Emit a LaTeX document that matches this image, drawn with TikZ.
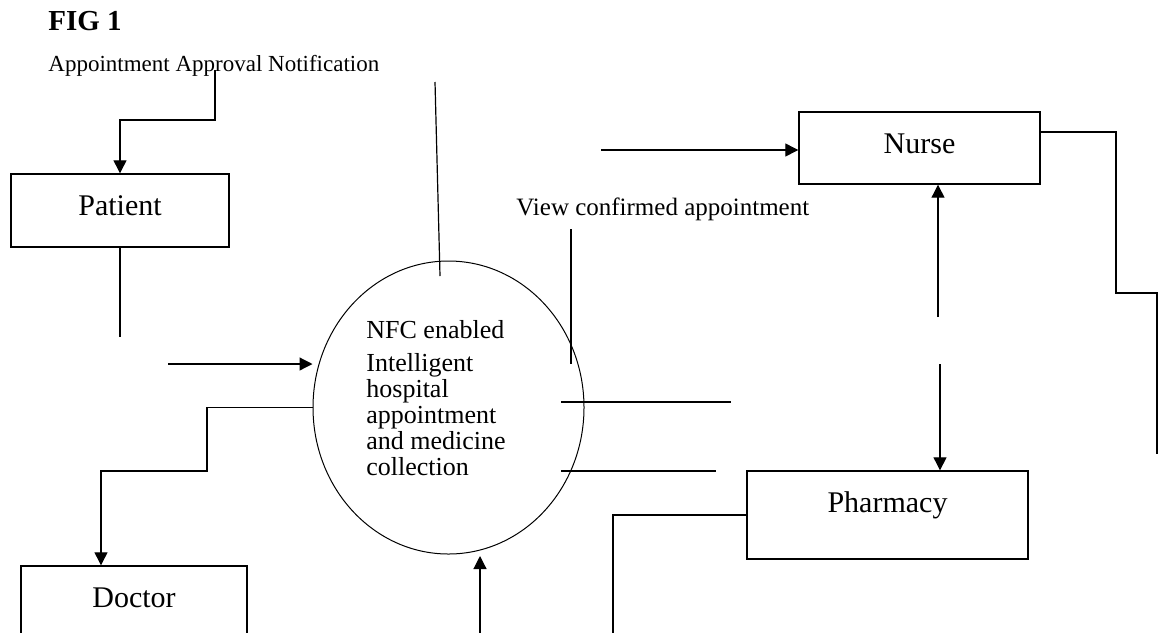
\documentclass[tikz,border=0pt]{standalone}
\usepackage{fontspec}
\setmainfont{Liberation Serif}
\usetikzlibrary{arrows.meta,shapes.geometric}
\newlength{\du}
\setlength{\du}{0.5pt}
\tikzset{
  entity/.style={draw, line width=1.4\du, font=\fontsize{15}{18}\selectfont, text height=21\du},
  process/.style={draw, ellipse, line width=1\du, minimum width=271\du, minimum height=293\du},
  flow/.style={line width=1.2\du, -{Triangle[length=6.5pt,width=6.5pt]}},
  link/.style={line width=1.2\du},
  caption/.style={inner sep=0pt, anchor=base west}
}

\begin{document}
\begin{tikzpicture}[x=\du,y=-\du]
\useasboundingbox (0,0) rectangle (1159,632);
\clip (0,0) rectangle (1159,632);
% texts
\node[caption, font=\bfseries\fontsize{14.5}{17}\selectfont] (fig) at (48,30) {FIG 1};
\node[caption, font=\fontsize{11.5}{14}\selectfont] (notif) at (48,71) {Appointment Approval Notification};
\node[caption, font=\fontsize{12.5}{15}\selectfont] (viewconf) at (516,215) {View confirmed appointment};
% entities
\node[entity, minimum width=218\du, minimum height=73\du, text depth=12\du] (patient) at (120,210.5) {Patient};
\node[entity, minimum width=241\du, minimum height=72\du, text depth=11\du] (nurse) at (919.5,148) {Nurse};
\node[entity, minimum width=281\du, minimum height=88\du, text depth=27\du] (pharmacy) at (887.5,515) {Pharmacy};
\node[entity, minimum width=226\du, minimum height=74\du, text depth=13\du] (doctor) at (134,603) {Doctor};
% process
\node[process] (system) at (448.5,407.5) {};
\node[inner sep=0pt, anchor=north west, align=left, font=\fontsize{13}{13}\selectfont] (systext) at (366,320)
  {NFC enabled\\[3.5pt]Intelligent\\hospital\\appointment\\and medicine\\collection};
% flows
\coordinate (n1) at (215,70);
\draw[flow] (n1) -- (215,120) -| (patient.north);
\coordinate (p1) at (120,337);
\draw[link] (patient.south) -- (p1);
\coordinate (s1) at (168,364);
\draw[flow] (s1) -- (s1 -| system.west);
\draw[flow] (system.west) -| (207,471) -| ([xshift=-33\du]doctor.north);
\coordinate (t1) at (435,82);
\draw[link] (t1) -- (440,276);
\coordinate (v1) at (571,229);
\draw[link] (v1) -- (571,364);
\draw[link] (561,402) -- (731,402);
\draw[link] (561,471) -- (716,471);
\coordinate (a1) at (601,150);
\draw[flow] (a1) -- (a1 -| nurse.west);
\coordinate (a2) at (938,317);
\draw[flow] (a2) -- (a2 |- nurse.south);
\draw[link] ([yshift=16\du]nurse.east) -| (1116,293) -| (1157,454);
\coordinate (a3) at (940,364);
\draw[flow] (a3) -- (a3 |- pharmacy.north);
\draw[link] (pharmacy.west) -| (613,640);
\coordinate (a4) at (480,640);
\draw[flow] (a4) -- (480,556);
\end{tikzpicture}
\end{document}
